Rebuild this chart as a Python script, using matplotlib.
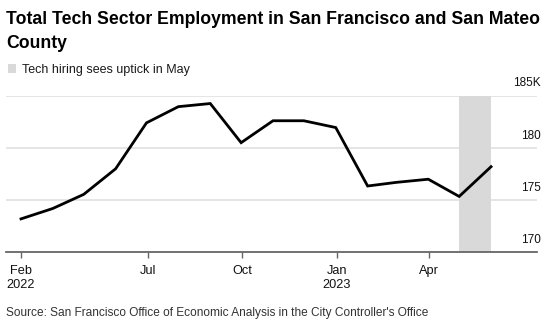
""" Tech sector employment in SF and San Mateo county, monthly """

import datetime as dt
import matplotlib
matplotlib.use("Agg")
from matplotlib import pyplot as plt
from matplotlib.patches import Rectangle
import pandas as pd

plt.rcParams["font.family"] = ["Liberation Sans", "DejaVu Sans"]

# monthly readings, in thousands of jobs (dated at month end)
months = pd.date_range("2022-02-28", "2023-05-31", freq="ME")
employment = [173.2, 174.2, 175.55, 178.0, 182.4, 183.95, 184.25, 180.5,
              182.6, 182.6, 181.95, 176.35, 176.7, 177.0, 175.35, 178.2]

yTicks = [170, 175, 180, 185]
yTickLabels = ["170", "175", "180", "185K"]
xTickDates = [dt.datetime(2022, 2, 28), dt.datetime(2022, 7, 1), dt.datetime(2022, 10, 1),
              dt.datetime(2023, 1, 1), dt.datetime(2023, 4, 1)]
xTickLabels = ["Feb\n2022", "Jul", "Oct", "Jan\n2023", "Apr"]
highlightStart = dt.datetime(2023, 4, 30)
highlightEnd = dt.datetime(2023, 5, 31)

W, H = 550, 326
fig = plt.figure(figsize=(W / 100, H / 100), dpi=100)
fig.patch.set_facecolor("white")

left, right, top, bottom = 6, 537, 95.7, 252.3
ax = fig.add_axes([left / W, 1 - bottom / H, (right - left) / W, (bottom - top) / H])

# grey band for the May pickup
ax.axvspan(highlightStart, highlightEnd, color="#d9d9d9", lw=0, zorder=1)

for y in yTicks[1:]:
  ax.axhline(y, color="#e3e3e3", lw=1.3, zorder=0)

ax.plot(months, employment, color="black", lw=2.0, solid_joinstyle="miter", zorder=3)

ax.set_ylim(170, 185)
ax.set_xlim(dt.datetime(2022, 2, 13, 10), dt.datetime(2023, 7, 14, 16))

ax.set_yticks([])
for v, s in zip(yTicks, yTickLabels):
  ax.annotate(s, xy=(1, v), xycoords=("axes fraction", "data"),
              xytext=(2.5, 4.5), textcoords="offset points",
              ha="right", va="bottom", fontsize=8.5, color="#111111",
              annotation_clip=False)

ax.set_xticks(xTickDates)
ax.set_xticklabels(xTickLabels, fontsize=9.2, color="#111111", linespacing=1.3)
ax.tick_params(axis="x", direction="out", length=4, width=1, color="#666666", pad=5)

for side in ["top", "right", "left"]:
  ax.spines[side].set_visible(False)
ax.spines["bottom"].set_color("#666666")
ax.spines["bottom"].set_linewidth(1.3)
ax.set_facecolor("none")

# heading, key and source line
fig.text(6 / W, 1 - 48.3 / H, "Total Tech Sector Employment in San Francisco and San Mateo\nCounty",
         ha="left", va="baseline", fontsize=12.7, fontweight="bold", color="black", linespacing=1.6)
fig.patches.append(Rectangle((8.3 / W, 1 - 72.7 / H), 7.4 / W, 8.4 / H,
                             transform=fig.transFigure, color="#d9d9d9", lw=0))
fig.text(22 / W, 1 - 73.3 / H, "Tech hiring sees uptick in May",
         ha="left", va="baseline", fontsize=9, color="#1a1a1a")
fig.text(6 / W, 1 - 316 / H, "Source: San Francisco Office of Economic Analysis in the City Controller's Office",
         ha="left", va="baseline", fontsize=8.6, color="#333333")

fig.savefig("out.png", dpi=100, facecolor=fig.get_facecolor())
